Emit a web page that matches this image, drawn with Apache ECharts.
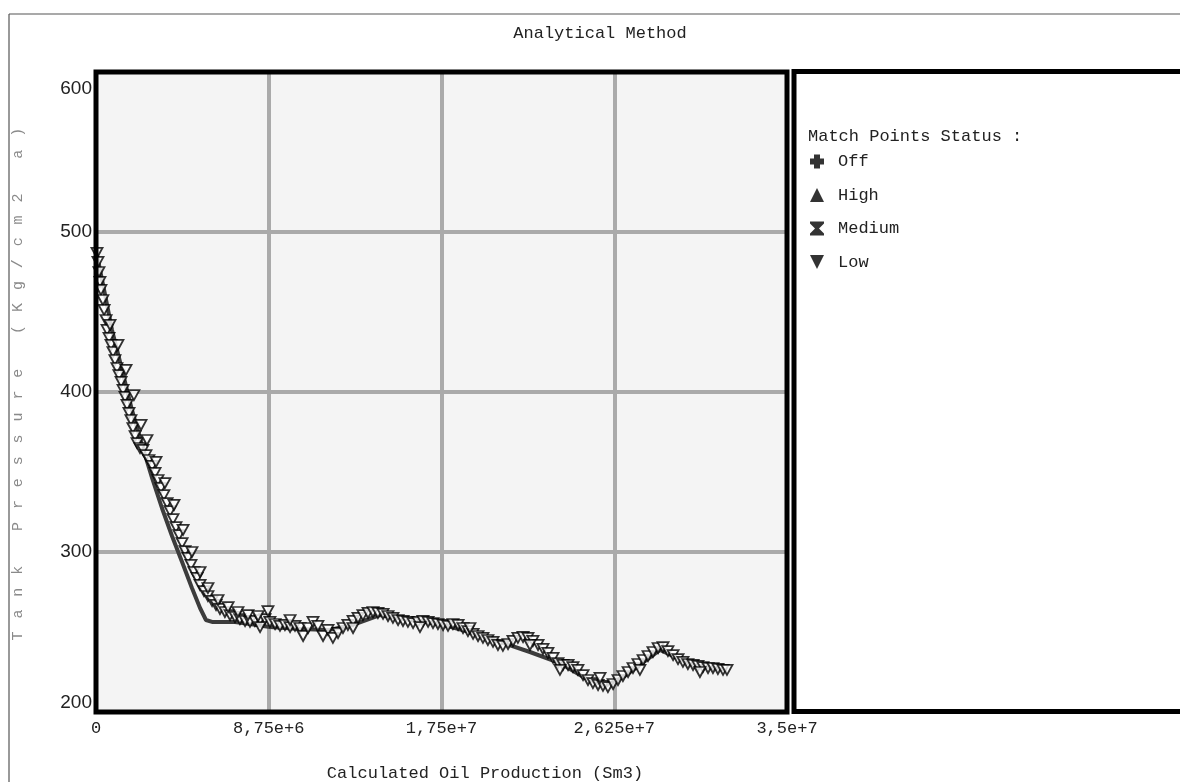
<!DOCTYPE html>
<html>
<head>
<meta charset="utf-8">
<script src="https://cdn.jsdelivr.net/npm/echarts@6/dist/echarts.min.js"></script>
<style>
html,body{margin:0;padding:0;background:#fff;}
#chart{width:1180px;height:782px;}
</style>
</head>
<body>
<div id="chart"></div>
<script>
// Calculated Oil Production in millions of Sm3 (axis shown in Sm3 via tick labels)
var xTickLabels = ['0', '8,75e+6', '1,75e+7', '2,625e+7', '3,5e+7'];
var yTickLabels = ['200', '300', '400', '500', '600'];
var legendNames = ['Off', 'High', 'Medium', 'Low'];
var yAxisTitle = 'Tank Pressure (Kg/cm2 a)';

// Analytical (calculated) curve
var calcProduction = [0.05,0.41,0.81,1.32,1.82,2.33,2.84,3.34,3.85,4.36,4.86,5.27,5.57,5.88,7.04,7.80,8.81,10.33,11.85,13.12,14.38,15.90,17.42,18.94,20.46,21.98,23.50,24.77,25.78,26.79,28.57,30.09,31.96];
var calcPressure   = [485.6,463.8,438.8,413.8,388.8,366.9,346.3,327.5,310.0,293.8,277.5,265.0,257.5,256.3,256.3,255.0,253.1,251.9,251.3,255.0,260.6,257.5,255.0,250.0,243.8,237.5,230.6,221.3,216.3,222.5,238.8,230.0,226.3];

// Match points (status: Low)
var lowProduction = [0.05,0.10,0.15,0.20,0.25,0.35,0.41,0.51,0.56,0.66,0.76,0.86,0.96,1.06,1.16,1.27,1.37,1.47,1.57,1.67,1.77,1.87,1.98,2.08,2.23,2.38,2.53,2.68,2.84,2.99,3.14,3.29,3.44,3.60,3.75,3.90,4.05,4.20,4.36,4.51,4.66,4.81,4.96,5.12,5.27,5.47,5.67,5.88,6.08,6.28,6.53,6.79,7.04,7.29,7.55,7.80,8.05,8.31,8.56,8.71,8.81,9.07,9.32,9.57,9.83,10.08,10.33,10.49,10.74,10.99,11.24,11.50,11.75,12.00,12.26,12.51,12.76,13.02,13.27,13.52,13.78,14.03,14.28,14.54,14.79,15.04,15.30,15.55,15.80,16.06,16.31,16.56,16.82,17.07,17.32,17.58,17.83,18.08,18.34,18.59,18.84,19.10,19.35,19.60,19.85,20.11,20.36,20.61,20.87,21.12,21.37,21.63,21.88,22.13,22.39,22.64,22.89,23.15,23.40,23.65,23.91,24.16,24.41,24.67,24.92,25.17,25.43,25.68,25.93,26.19,26.44,26.69,26.95,27.20,27.45,27.71,27.96,28.21,28.47,28.72,28.97,29.23,29.48,29.73,29.98,30.24,30.49,30.74,31.00,31.25,31.50,31.76,31.96,
  0.71,1.11,1.52,1.92,2.28,2.58,3.04,3.49,3.95,4.41,4.86,5.27,5.67,6.18,6.69,7.19,7.70,8.21,
  8.31,9.83,13.02,16.41,18.94,21.98,23.50,25.53,27.55,30.59];
var lowPressure = [486.9,481.3,475.0,468.8,463.8,457.5,451.3,445.0,438.8,433.8,429.4,425.0,420.0,415.0,410.6,406.3,401.3,396.9,391.9,386.9,382.5,377.5,372.5,368.1,365.0,363.8,360.6,357.5,353.8,349.4,345.0,340.0,335.6,330.6,325.6,320.6,315.6,310.6,305.6,300.6,296.3,291.9,287.5,283.8,279.4,275.6,272.5,269.4,266.9,264.4,262.5,260.6,259.4,258.1,256.9,256.3,256.9,257.5,258.1,263.1,256.3,255.0,253.8,254.4,253.1,253.8,252.5,247.5,252.5,256.3,253.8,247.5,251.3,246.3,249.4,252.5,254.4,256.9,258.8,260.6,261.9,262.5,261.9,261.3,260.0,258.8,257.5,256.9,256.3,255.6,256.3,256.9,256.3,255.6,255.0,254.4,253.8,255.0,254.4,252.5,250.6,248.8,247.5,246.3,245.0,243.8,241.9,241.3,242.5,244.4,246.3,246.9,246.3,244.4,241.9,239.4,236.9,233.8,230.6,229.4,229.4,228.1,226.3,223.1,220.0,218.1,216.9,216.3,215.6,217.5,220.0,222.5,225.0,227.5,230.0,232.5,235.0,237.5,240.0,240.6,238.1,235.6,233.1,231.3,230.0,229.4,228.8,228.1,227.5,227.5,226.9,226.3,226.3,
  441.9,429.4,413.8,398.1,379.4,370.0,356.3,343.1,329.4,313.8,300.0,287.5,277.5,270.0,265.6,262.5,260.6,260.0,
  253.1,257.5,252.5,253.1,252.5,241.9,226.3,221.3,226.3,225.0];

var calcData = calcProduction.map(function (x, i) { return [x, calcPressure[i]]; });
var lowData = lowProduction.map(function (x, i) { return [x, lowPressure[i]]; });

var ICON_OFF = 'path://M4,0H10V4H14V10H10V14H4V10H0V4H4Z';
var ICON_HIGH = 'path://M7,0L14,14H0Z';
var ICON_MED = 'path://M0,0H14V2L9,7L14,12V14H0V12L5,7L0,2Z';
var ICON_LOW = 'path://M0,0H14L7,14Z';

var MONO = "'Liberation Mono', 'DejaVu Sans Mono', monospace";
var SANS = "'Liberation Sans Narrow', 'Liberation Sans', sans-serif";

// rotated, widely spaced y-axis title: one text element per character
var yTitleGraphics = yAxisTitle.split('').map(function (ch, i) {
  return {type: 'text', x: 18, y: 636 - i * 21.9, rotation: Math.PI / 2, silent: true,
    style: {text: ch, font: "15px 'Liberation Mono', monospace", fill: '#8a8a8a', textAlign: 'center', textVerticalAlign: 'middle'}};
});

var chart = echarts.init(document.getElementById('chart'), null, {renderer: 'canvas'});
var option = {
  backgroundColor: '#ffffff',
  animation: false,
  grid: {
    left: 96, top: 72, width: 691, height: 640,
    show: true, backgroundColor: '#f4f4f4', borderColor: '#000', borderWidth: 0,
    containLabel: false
  },
  xAxis: {
    type: 'value', min: 0, max: 35, interval: 8.75,
    axisLine: {show: false}, axisTick: {show: false},
    splitLine: {show: true, lineStyle: {color: '#aaaaaa', width: 4}},
    axisLabel: {
      margin: 8, color: '#222', fontFamily: MONO, fontSize: 17,
      formatter: function (v) { return xTickLabels[Math.round(v / 8.75)]; }
    }
  },
  yAxis: {
    type: 'value', min: 200, max: 600, interval: 100,
    axisLine: {show: false}, axisTick: {show: false},
    splitLine: {show: true, lineStyle: {color: '#aaaaaa', width: 4}},
    axisLabel: {
      margin: 4, color: '#222', fontFamily: SANS, fontSize: 19,
      verticalAlignMaxLabel: 'top', verticalAlignMinLabel: 'bottom',
      rich: {mx: {padding: [7, 0, 0, 0], color: '#222', fontFamily: SANS, fontSize: 19}},
      formatter: function (v) {
        var s = yTickLabels[Math.round((v - 200) / 100)];
        return v === 600 ? '{mx|' + s + '}' : s;
      }
    }
  },
  legend: {
    orient: 'vertical', left: 805, top: 148,
    itemWidth: 14, itemHeight: 14, itemGap: 16.5,
    textStyle: {fontFamily: MONO, fontSize: 17, color: '#222', padding: [0, 0, 0, 9]},
    data: legendNames.map(function (n) {
      return {name: n, itemStyle: {color: '#000', borderColor: '#000', borderWidth: 0}};
    }),
    selectedMode: false
  },
  graphic: [
    {type: 'line', shape: {x1: 9, y1: 14, x2: 1180, y2: 14}, style: {stroke: '#555', lineWidth: 1.2}, silent: true},
    {type: 'line', shape: {x1: 9, y1: 14, x2: 9, y2: 782}, style: {stroke: '#555', lineWidth: 1.2}, silent: true},
    {type: 'rect', shape: {x: 794, y: 71.5, width: 420, height: 640}, style: {fill: '#fff', stroke: '#000', lineWidth: 5}, z: -1, silent: true},
    {type: 'rect', shape: {x: 96, y: 72, width: 691, height: 640}, style: {fill: null, stroke: '#000', lineWidth: 5}, z: 100, silent: true},
    {type: 'text', x: 600, y: 33, style: {text: 'Analytical Method', font: "17px 'Liberation Mono', monospace", fill: '#222', textAlign: 'center', textVerticalAlign: 'middle'}, silent: true},
    {type: 'text', x: 485, y: 773, style: {text: 'Calculated Oil Production (Sm3)', font: "17px 'Liberation Mono', monospace", fill: '#222', textAlign: 'center', textVerticalAlign: 'middle'}, silent: true},
    {type: 'text', x: 808, y: 136, style: {text: 'Match Points Status :', font: "17px 'Liberation Mono', monospace", fill: '#222', textAlign: 'left', textVerticalAlign: 'middle'}, silent: true}
  ].concat(yTitleGraphics),
  series: [
    {name: 'Calculated', type: 'line', data: calcData, showSymbol: false, symbol: 'none',
      lineStyle: {color: '#3c3c3c', width: 4}, z: 2},
    {name: 'Off', type: 'scatter', data: [], symbol: ICON_OFF, itemStyle: {color: '#000'}},
    {name: 'High', type: 'scatter', data: [], symbol: ICON_HIGH, itemStyle: {color: '#000'}},
    {name: 'Medium', type: 'scatter', data: [], symbol: ICON_MED, itemStyle: {color: '#000'}},
    {name: 'Low', type: 'scatter', data: lowData, symbol: ICON_LOW, symbolSize: [11, 10],
      itemStyle: {color: '#ffffff', borderColor: '#000', borderWidth: 1.8}, z: 3}
  ]
};
chart.setOption(option);
</script>
</body>
</html>
